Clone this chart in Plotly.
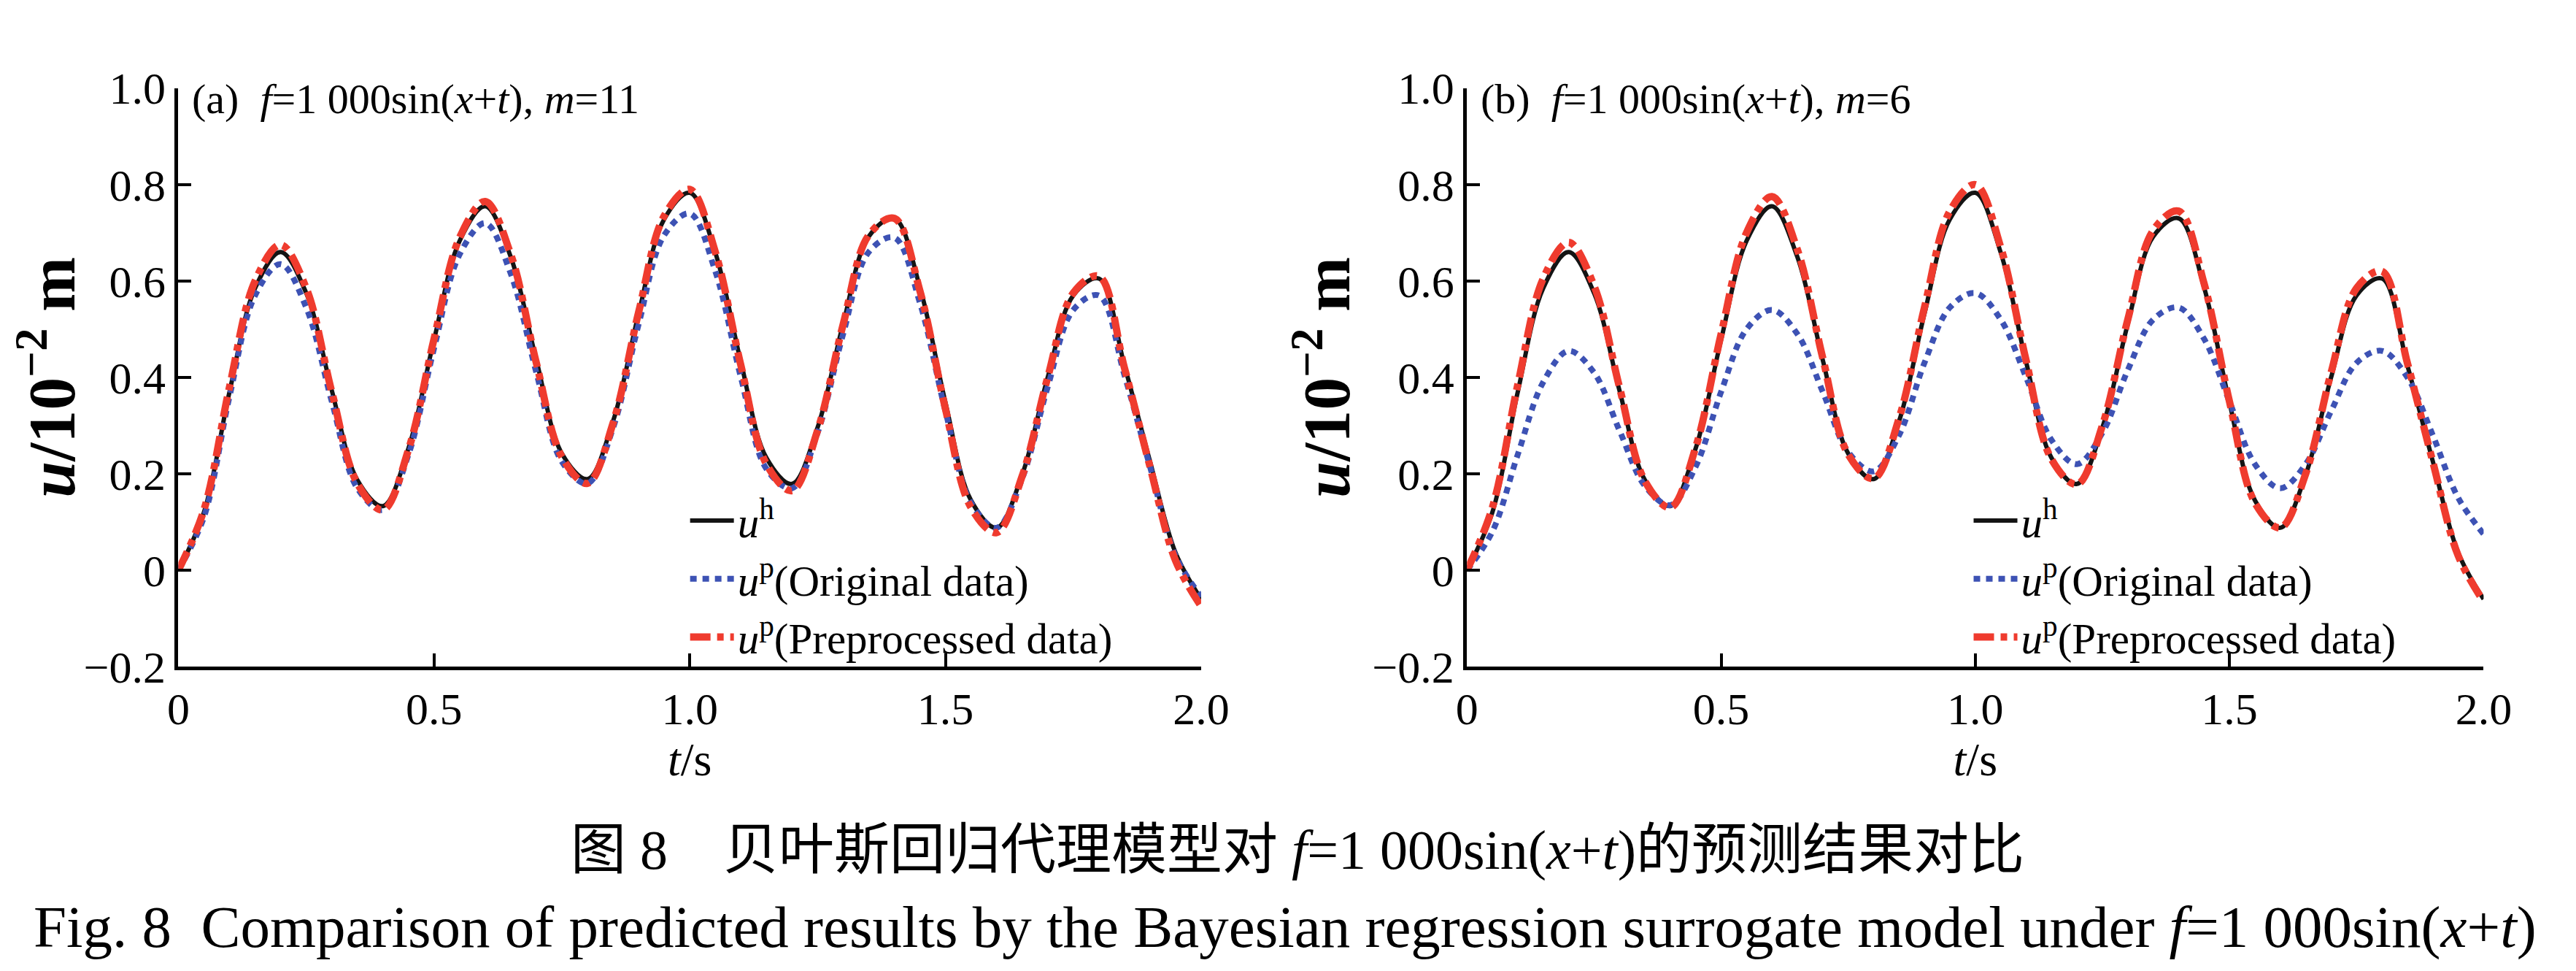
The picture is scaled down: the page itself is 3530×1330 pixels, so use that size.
import plotly.graph_objects as go

# time axis (s)
t = [round(i * 0.05, 2) for i in range(41)]

# u^h, same reference solution in both panels
u_h = [0, 0.12, 0.37, 0.585, 0.66, 0.575, 0.373, 0.187, 0.133, 0.253,
       0.478, 0.683, 0.755, 0.65, 0.436, 0.242, 0.189, 0.309, 0.532, 0.728,
       0.783, 0.659, 0.432, 0.233, 0.179, 0.296, 0.511, 0.692, 0.73, 0.587,
       0.348, 0.145, 0.088, 0.198, 0.40, 0.57, 0.605, 0.425, 0.226, 0.036,
       -0.06]

# (a) m=11
u_orig_a = [0, 0.11, 0.36, 0.57, 0.635, 0.545, 0.35, 0.17, 0.125, 0.24,
            0.46, 0.655, 0.72, 0.615, 0.41, 0.225, 0.18, 0.295, 0.51, 0.695,
            0.74, 0.62, 0.40, 0.21, 0.17, 0.285, 0.49, 0.66, 0.69, 0.555,
            0.33, 0.14, 0.088, 0.19, 0.38, 0.54, 0.57, 0.405, 0.215, 0.03,
            -0.055]
u_prep_a = [0, 0.125, 0.38, 0.60, 0.675, 0.585, 0.37, 0.18, 0.125, 0.25,
            0.48, 0.69, 0.765, 0.655, 0.43, 0.235, 0.18, 0.305, 0.535, 0.735,
            0.79, 0.66, 0.425, 0.22, 0.165, 0.29, 0.51, 0.695, 0.73, 0.58,
            0.335, 0.13, 0.078, 0.195, 0.40, 0.575, 0.61, 0.42, 0.215, 0.02,
            -0.075]

# (b) m=6
u_orig_b = [0, 0.08, 0.24, 0.39, 0.455, 0.41, 0.29, 0.175, 0.135, 0.215,
            0.37, 0.50, 0.54, 0.49, 0.37, 0.245, 0.205, 0.28, 0.43, 0.545,
            0.575, 0.52, 0.40, 0.27, 0.22, 0.285, 0.415, 0.52, 0.545, 0.48,
            0.35, 0.22, 0.17, 0.22, 0.33, 0.43, 0.455, 0.40, 0.28, 0.15,
            0.075]
u_prep_b = [0, 0.13, 0.385, 0.605, 0.68, 0.59, 0.38, 0.185, 0.13, 0.255,
            0.49, 0.70, 0.775, 0.665, 0.44, 0.24, 0.19, 0.315, 0.545, 0.745,
            0.80, 0.67, 0.435, 0.23, 0.178, 0.30, 0.52, 0.705, 0.745, 0.595,
            0.35, 0.14, 0.088, 0.20, 0.41, 0.585, 0.62, 0.43, 0.225, 0.03,
            -0.065]

x_ticks = [0, 0.5, 1.0, 1.5, 2.0]
x_ticktext = ['0', '0.5', '1.0', '1.5', '2.0']
y_ticks = [-0.2, 0, 0.2, 0.4, 0.6, 0.8, 1.0]
y_ticktext = ['\u22120.2', '0', '0.2', '0.4', '0.6', '0.8', '1.0']

names = ['<i>u</i><sup>h</sup>',
         '<i>u</i><sup>p</sup>(Original data)',
         '<i>u</i><sup>p</sup>(Preprocessed data)']
panel_labels = ['(a)  <i>f</i>=1 000sin(<i>x</i>+<i>t</i>), <i>m</i>=11',
                '(b)  <i>f</i>=1 000sin(<i>x</i>+<i>t</i>), <i>m</i>=6']

SERIF = 'Liberation Serif, Times New Roman, serif'
BLACK = '#141414'
BLUE = '#3D52B4'
RED = '#EF3B2E'

fig = go.Figure()

panels = [(u_orig_a, u_prep_a, 'x', 'y', 'legend'),
          (u_orig_b, u_prep_b, 'x2', 'y2', 'legend2')]
for u_orig, u_prep, xa, ya, leg in panels:
    fig.add_trace(go.Scatter(x=t, y=u_h, name=names[0], mode='lines',
                             line=dict(color=BLACK, width=6, shape='spline'),
                             xaxis=xa, yaxis=ya, legend=leg))
    fig.add_trace(go.Scatter(x=t, y=u_orig, name=names[1], mode='lines',
                             line=dict(color=BLUE, width=8, dash='9px,8px', shape='spline'),
                             xaxis=xa, yaxis=ya, legend=leg))
    fig.add_trace(go.Scatter(x=t, y=u_prep, name=names[2], mode='lines',
                             line=dict(color=RED, width=10, dash='28px,9px,9px,9px', shape='spline'),
                             xaxis=xa, yaxis=ya, legend=leg))

axis_common = dict(showgrid=False, zeroline=False, showline=True, linecolor='black',
                   linewidth=5, ticks='inside', ticklen=18, tickwidth=4, tickcolor='black',
                   tickfont=dict(family=SERIF, size=62, color='black'))

x_common = dict(axis_common, range=[0, 2.0], tickvals=x_ticks, ticktext=x_ticktext,
                title=dict(text='<i>t</i>/s', font=dict(family=SERIF, size=64, color='black'),
                           standoff=0))
y_common = dict(axis_common, range=[-0.2, 1.0], tickvals=y_ticks, ticktext=y_ticktext,
                title=dict(text='<b><i>u</i>/10<sup>\u22122</sup> m</b>',
                           font=dict(family=SERIF, size=90, color='black'), standoff=2))

legend_style = dict(xanchor='left', yanchor='top', bgcolor='rgba(0,0,0,0)',
                    font=dict(family=SERIF, size=59, color='black'),
                    tracegroupgap=0, itemwidth=60)

fig.update_layout(
    width=3530, height=1330,
    paper_bgcolor='white', plot_bgcolor='white',
    margin=dict(l=0, r=0, t=0, b=0),
    xaxis=dict(x_common, domain=[0.0637, 0.4669], anchor='y'),
    yaxis=dict(y_common, domain=[0.309, 0.9368], anchor='x'),
    xaxis2=dict(x_common, domain=[0.5717, 0.9725], anchor='y2'),
    yaxis2=dict(y_common, domain=[0.309, 0.9368], anchor='x2'),
    legend=dict(legend_style, x=0.264, y=0.503),
    legend2=dict(legend_style, x=0.770, y=0.503),
    showlegend=True,
)

# panel labels
for lab, xref in zip(panel_labels, ['x domain', 'x2 domain']):
    fig.add_annotation(text=lab, xref=xref, yref='paper', x=0.012, y=0.925,
                       xanchor='left', yanchor='middle', showarrow=False,
                       font=dict(family=SERIF, size=58, color='black'))

# figure captions
fig.add_annotation(text='图 8\u3000贝叶斯回归代理模型对 <i>f</i>=1 000sin(<i>x</i>+<i>t</i>)的预测结果对比',
                   xref='paper', yref='paper', x=0.505, y=0.110, showarrow=False,
                   xanchor='center', yanchor='middle',
                   font=dict(family='Liberation Serif, Noto Sans CJK SC', size=76, color='black'))
fig.add_annotation(text='Fig. 8  Comparison of predicted results by the Bayesian regression surrogate model under <i>f</i>=1 000sin(<i>x</i>+<i>t</i>)',
                   xref='paper', yref='paper', x=0.500, y=0.026, showarrow=False,
                   xanchor='center', yanchor='middle',
                   font=dict(family=SERIF, size=81, color='black'))

fig.write_html("out.html")
